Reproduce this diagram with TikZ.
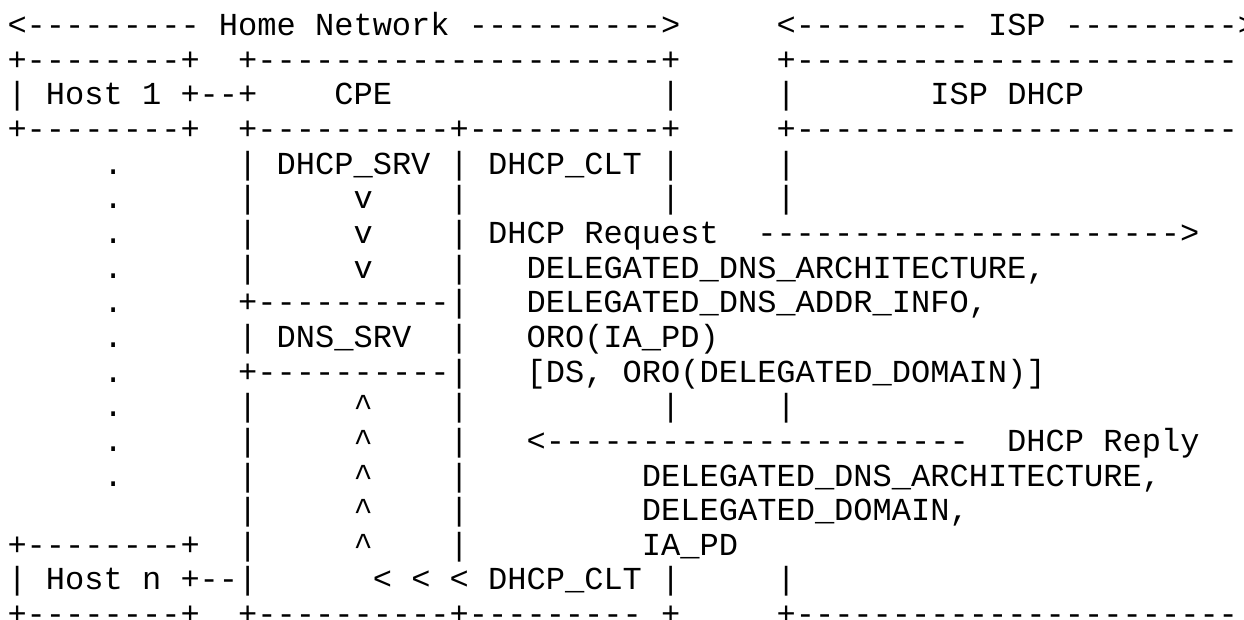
\documentclass[tikz,border=0pt]{standalone}
\usepackage{fontspec}
\setmonofont{Liberation Mono}
\newcommand\cu{\textasciicircum}
\newcommand\us{\textunderscore}
\tikzset{
  asc/.style={anchor=base west, inner sep=0pt, outer sep=0pt,
    font=\ttfamily\fontsize{32.04pt}{34.64pt}\selectfont}
}
\begin{document}
\begin{tikzpicture}[x=1pt,y=1pt]
\fill[white] (0,0) rectangle (1244,-619);
\useasboundingbox (0,0) rectangle (1244,-619);
\def\cx{7.5}
\node[asc] (l1)  at (\cx,-35.70)  {<---------~Home~Network~---------->~~~~~<---------~ISP~--------->};
\node[asc] (l2)  at (\cx,-70.34)  {+--------+~~+---------------------+~~~~~+-----------------------};
\node[asc] (l3)  at (\cx,-104.98) {|~Host~1~+--+~~~~CPE~~~~~~~~~~~~~~|~~~~~|~~~~~~~ISP~DHCP};
\node[asc] (l4)  at (\cx,-139.62) {+--------+~~+----------+----------+~~~~~+-----------------------};
\node[asc] (l5)  at (\cx,-174.26) {~~~~~.~~~~~~|~DHCP\us SRV~|~DHCP\us CLT~|~~~~~|};
\node[asc] (l6)  at (\cx,-208.90) {~~~~~.~~~~~~|~~~~~v~~~~|~~~~~~~~~~|~~~~~|};
\node[asc] (l7)  at (\cx,-243.54) {~~~~~.~~~~~~|~~~~~v~~~~|~DHCP~Request~~---------------------->};
\node[asc] (l8)  at (\cx,-278.18) {~~~~~.~~~~~~|~~~~~v~~~~|~~~DELEGATED\us DNS\us ARCHITECTURE,};
\node[asc] (l9)  at (\cx,-312.82) {~~~~~.~~~~~~+----------|~~~DELEGATED\us DNS\us ADDR\us INFO,};
\node[asc] (l10) at (\cx,-347.46) {~~~~~.~~~~~~|~DNS\us SRV~~|~~~ORO(IA\us PD)};
\node[asc] (l11) at (\cx,-382.10) {~~~~~.~~~~~~+----------|~~~[DS,~ORO(DELEGATED\us DOMAIN)]};
\node[asc] (l12) at (\cx,-416.74) {~~~~~.~~~~~~|~~~~~\cu~~~~|~~~~~~~~~~|~~~~~|};
\node[asc] (l13) at (\cx,-451.38) {~~~~~.~~~~~~|~~~~~\cu~~~~|~~~<----------------------~~DHCP~Reply};
\node[asc] (l14) at (\cx,-486.02) {~~~~~.~~~~~~|~~~~~\cu~~~~|~~~~~~~~~DELEGATED\us DNS\us ARCHITECTURE,};
\node[asc] (l15) at (\cx,-520.66) {~~~~~~~~~~~~|~~~~~\cu~~~~|~~~~~~~~~DELEGATED\us DOMAIN,};
\node[asc] (l16) at (\cx,-555.30) {+--------+~~|~~~~~\cu~~~~|~~~~~~~~~IA\us PD};
\node[asc] (l17) at (\cx,-589.94) {|~Host~n~+--|~~~~~~<~<~<~DHCP\us CLT~|~~~~~|};
\node[asc] (l18) at (\cx,-624.58) {+--------+~~+----------+---------~+~~~~~+-----------------------};
\end{tikzpicture}
\end{document}
